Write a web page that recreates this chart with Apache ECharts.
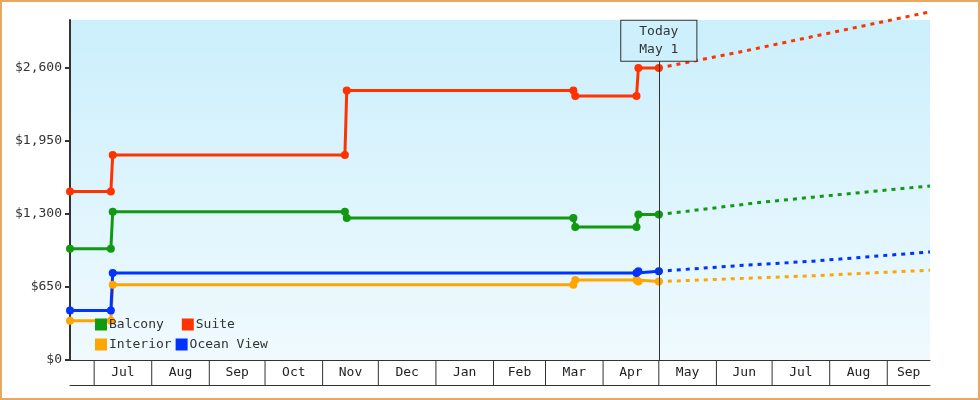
<!DOCTYPE html>
<html><head><meta charset="utf-8">
<script src="https://cdn.jsdelivr.net/npm/echarts@6/dist/echarts.min.js"></script>
<style>html,body{margin:0;padding:0;background:#fff}#c{width:980px;height:400px;box-sizing:border-box;border:2px solid #e8a860}</style>
</head><body><div id="c"></div>
<script>
// x values: days since Jun 18
const months = [[0,13,''],[13,44,'Jul'],[44,75,'Aug'],[75,105,'Sep'],[105,136,'Oct'],[136,166,'Nov'],[166,197,'Dec'],[197,228,'Jan'],[228,256,'Feb'],[256,287,'Mar'],[287,317,'Apr'],[317,348,'May'],[348,378,'Jun'],[378,409,'Jul'],[409,440,'Aug'],[440,463,'Sep']];
const todayDay = 317;
const suite = [[0,1500],[22,1500],[23,1825],[148,1825],[149,2400],[271,2400],[272,2350],[305,2350],[306,2600],[317,2600]];
const balcony = [[0,990],[22,990],[23,1320],[148,1320],[149,1265],[271,1265],[272,1185],[305,1185],[306,1295],[317,1295]];
const ocean = [[0,440],[22,440],[23,775],[305,775],[306,790],[317,790]];
const interior = [[0,350],[22,350],[23,670],[271,670],[272,712],[305,712],[306,698],[317,698]];
const suiteF = [[317,2600],[360,2740],[400,2880],[463,3100]];
const balconyF = [[317,1295],[340,1340],[370,1400],[400,1450],[463,1550]];
const oceanF = [[317,790],[360,840],[400,880],[463,962]];
const interiorF = [[317,698],[360,725],[400,750],[463,800]];
const colors = {Balcony:'#119911',Suite:'#ff3300',Interior:'#ffa500','Ocean View':'#0033ff'};
const font = '"DejaVu Sans Mono", monospace';
function hist(name,data){return {name,type:'line',data,xAxisIndex:0,yAxisIndex:0,symbol:'circle',symbolSize:8,color:colors[name],lineStyle:{width:3},clip:false,z:3};}
function fc(name,data){return {name,type:'line',data,xAxisIndex:0,yAxisIndex:0,symbol:'none',color:colors[name],lineStyle:{width:3,type:[4,5]},clip:false,smooth:false,z:3};}
const series=[hist('Interior',interior),hist('Ocean View',ocean),hist('Balcony',balcony),hist('Suite',suite),
fc('Interior',interiorF),fc('Ocean View',oceanF),fc('Balcony',balconyF),fc('Suite',suiteF)];
series[0].markLine={silent:true,symbol:'none',animation:false,lineStyle:{color:'#333',width:1,type:'solid'},
 label:{show:true,position:'end',formatter:'Today\nMay 1',fontFamily:font,fontSize:13,color:'#333',lineHeight:18,backgroundColor:'#cdf0fc',borderColor:'#333',borderWidth:1,padding:[2,18,2,18],distance:0},
 data:[[{coord:[todayDay,0]},{coord:[todayDay,2665]}]]};
series.push({type:'custom',xAxisIndex:1,yAxisIndex:1,data:months.map(m=>[m[0],m[1]]),silent:true,renderItem:function(p,api){
  const s=api.coord([api.value(0),0]),e=api.coord([api.value(1),0]);
  const top=p.coordSys.y,bot=p.coordSys.y+p.coordSys.height;
  const ch=[{type:'text',style:{text:months[p.dataIndex][2],x:(s[0]+e[0])/2,y:(top+bot)/2,align:'center',verticalAlign:'middle',font:'13px '+font,fill:'#222'}}];
  if(p.dataIndex>0) ch.push({type:'line',shape:{x1:s[0],y1:top,x2:s[0],y2:bot},style:{stroke:'#333',lineWidth:1}});
  return {type:'group',children:ch};
 },encode:{x:[0,1]}});
const chart=echarts.init(document.getElementById('c'));
chart.setOption({animation:false,
 grid:[{left:68,right:48,top:18,bottom:38,show:true,borderWidth:0,backgroundColor:new echarts.graphic.LinearGradient(0,0,0,1,[{offset:0,color:'#cbeffc'},{offset:1,color:'#f0fafe'}])},
       {left:68,right:48,top:358,height:25}],
 xAxis:[{type:'value',min:0,max:463,gridIndex:0,axisLine:{show:true,lineStyle:{color:'#333',width:1}},axisTick:{show:false},axisLabel:{show:false},splitLine:{show:false}},
        {type:'value',min:0,max:463,gridIndex:1,position:'bottom',axisLine:{show:true,lineStyle:{color:'#333',width:1}},axisTick:{show:false},axisLabel:{show:false},splitLine:{show:false}}],
 yAxis:[{type:'value',min:0,max:3027,interval:650,gridIndex:0,axisLine:{show:true,lineStyle:{color:'#333',width:2}},axisTick:{show:true,length:5,lineStyle:{color:'#333',width:2}},
   axisLabel:{showMaxLabel:false,fontFamily:font,fontSize:13,color:'#333',margin:8,formatter:v=>'$'+v.toLocaleString('en-US')},splitLine:{show:false}},
   {type:'value',gridIndex:1,show:false,min:0,max:1}],
 legend:[{left:88,top:311,itemWidth:12,itemHeight:12,itemGap:18,icon:'rect',data:['Balcony','Suite'],textStyle:{fontFamily:font,fontSize:13,color:'#333',padding:[0,0,0,-3]},selectedMode:false},
         {left:88,top:331,itemWidth:12,itemHeight:12,itemGap:4,icon:'rect',data:['Interior','Ocean View'],textStyle:{fontFamily:font,fontSize:13,color:'#333',padding:[0,0,0,-3]},selectedMode:false}],
 series});
</script></body></html>
